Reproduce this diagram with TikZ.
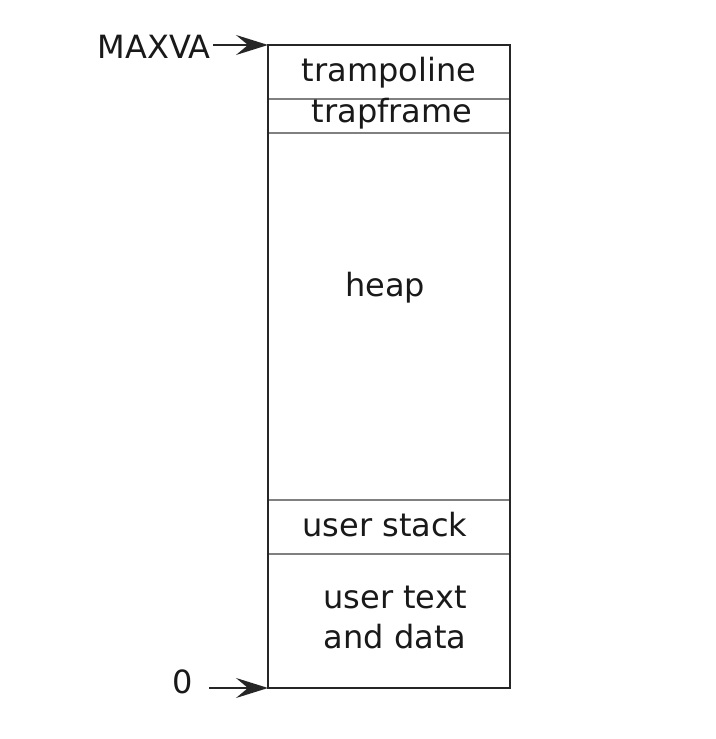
\documentclass[tikz,border=0pt]{standalone}
\usepackage{fontspec}
\setmainfont{DejaVu Sans}
\usetikzlibrary{arrows.meta}
\begin{document}
\begin{tikzpicture}[x=1pt,y=1pt,
  lbl/.style={inner sep=0pt, font=\fontsize{32}{40}\selectfont, text=black!90},
  divider/.style={draw=black!50, line width=1.4pt},
  outer/.style={draw=black!85, line width=2.6pt},
  ptr/.style={draw=black!85, line width=1.8pt, -{Stealth[length=32pt,width=20pt,inset=12pt]}}]
\useasboundingbox (0,0) rectangle (715,739);
\fill[white] (0,0) rectangle (715,739);
\coordinate (tl) at (268,694);
\coordinate (bl) at (268,51);
% dividers
\draw[divider] (268,640) -- (510,640);
\draw[divider] (268,606) -- (510,606);
\draw[divider] (268,239) -- (510,239);
\draw[divider] (268,185) -- (510,185);
\draw[outer] (268,51) rectangle (510,694);
% labels
\node[lbl] (tramp) at (389,666) {trampoline};
\node[lbl] (trapf) at (392,625) {trapframe};
\node[lbl] (heap) at (385,451) {heap};
\node[lbl] (ustack) at (385,214) {user stack};
\node[lbl, align=center] (utext) at (395,122) {user text\\and data};
\node[lbl, anchor=east] (maxva) at (211,692) {MAXVA};
\node[lbl] (zero) at (183,57) {0};
\coordinate (mstart) at (213,694);
\coordinate (zstart) at (209,51);
\draw[ptr] (mstart) -- (tl);
\draw[ptr] (zstart) -- (bl);
\end{tikzpicture}
\end{document}
